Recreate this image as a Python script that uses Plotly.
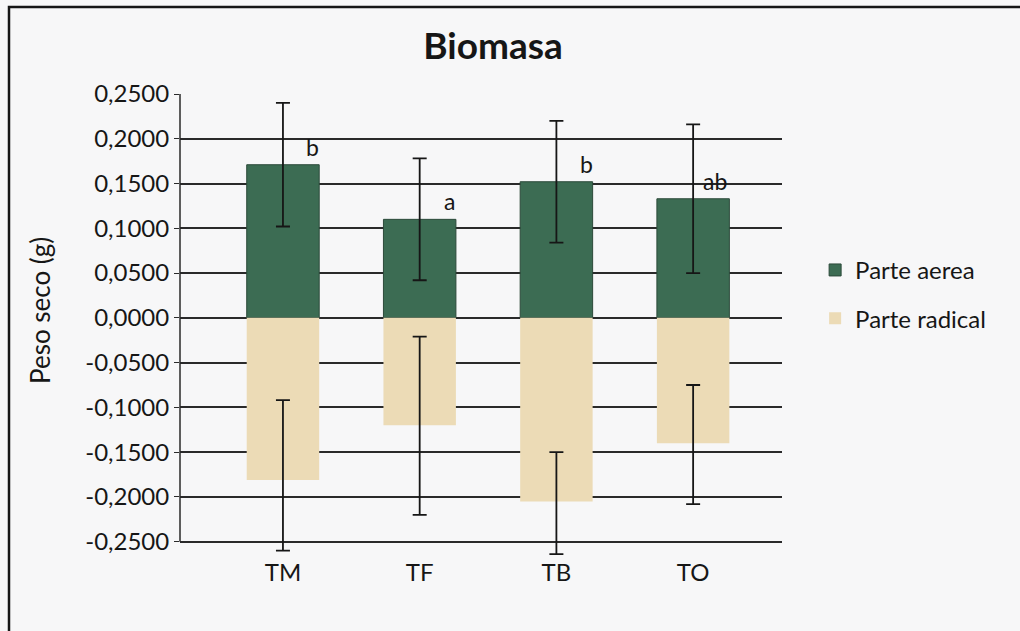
import plotly.graph_objects as go

categories = ["TM", "TF", "TB", "TO"]
aerea = [0.171, 0.110, 0.152, 0.133]
aerea_err = [0.069, 0.068, 0.068, 0.083]
radical = [-0.181, -0.120, -0.205, -0.140]
radical_err_up = [0.089, 0.099, 0.055, 0.065]
radical_err_down = [0.079, 0.100, 0.059, 0.068]
letters = ["b", "a", "b", "ab"]
y_tickvals = [0.25, 0.20, 0.15, 0.10, 0.05, 0.0, -0.05, -0.10, -0.15, -0.20, -0.25]
y_ticktext = ["0,2500", "0,2000", "0,1500", "0,1000", "0,0500", "0,0000",
              "-0,0500", "-0,1000", "-0,1500", "-0,2000", "-0,2500"]

GREEN = "#3c6c53"
TAN = "#ecdbb6"
FONT = "Lato, 'Open Sans', sans-serif"
INK = "#161616"
AX = "#2a2a2a"

fig = go.Figure()
fig.add_trace(go.Bar(
    x=categories, y=aerea, name="Parte aerea", legendgroup="g1",
    marker=dict(color=GREEN, line=dict(color="#2c4a3a", width=1)),
    width=0.53,
    error_y=dict(type="data", array=aerea_err, color=INK, thickness=1.8, width=7),
))
fig.add_trace(go.Bar(
    x=categories, y=radical, name="Parte radical", legendgroup="g2",
    marker=dict(color=TAN, line=dict(width=0)),
    width=0.53,
    error_y=dict(type="data", symmetric=False, array=radical_err_up,
                 arrayminus=radical_err_down, color=INK, thickness=1.8, width=7),
))

for c, v, t in zip(categories, aerea, letters):
    fig.add_annotation(x=c, y=v + 0.02, text=t, showarrow=False,
                       xshift=30 if len(t) == 1 else 22,
                       font=dict(family=FONT, size=23, color=INK))

PLOT_BOTTOM, PLOT_H = 556, 462

# y-axis title
fig.add_annotation(xref="paper", yref="paper", x=(40 - 180) / 602, y=(PLOT_BOTTOM - 311) / PLOT_H,
                   text="Peso seco (g)", textangle=-90, showarrow=False,
                   xanchor="center", yanchor="middle",
                   font=dict(family=FONT, size=26, color=INK))

# vertical axis line spanning the tick range only
fig.add_shape(type="line", xref="paper", yref="y", x0=0, x1=0,
              y0=min(y_tickvals), y1=max(y_tickvals), line=dict(color=AX, width=1.5))

# outer frame of the chart area (scanned border)
fig.add_shape(type="rect", xref="paper", yref="paper",
              x0=(9 - 180) / 602, x1=(1030 - 180) / 602,
              y0=(PLOT_BOTTOM - 650) / PLOT_H, y1=(PLOT_BOTTOM - 7) / PLOT_H,
              line=dict(color=INK, width=2.5), fillcolor="rgba(0,0,0,0)", layer="below")

fig.update_layout(
    width=1020, height=631,
    margin=dict(l=180, r=238, t=94, b=631 - PLOT_BOTTOM),
    paper_bgcolor="#f7f7f8", plot_bgcolor="rgba(0,0,0,0)",
    barmode="relative",
    title=dict(text="<b>Biomasa</b>", x=493 / 1020, xanchor="center", y=1 - 46 / 631,
               yanchor="middle", font=dict(family=FONT, size=37, color=INK)),
    font=dict(family=FONT, size=23, color=INK),
    showlegend=True,
    legend=dict(x=1.055, y=0.667, xanchor="left", yanchor="top",
                font=dict(family=FONT, size=24, color=INK),
                bgcolor="rgba(0,0,0,0)", tracegroupgap=14, itemwidth=30),
    xaxis=dict(range=[-0.753, 3.65], showgrid=False, showline=False,
               ticks="", tickfont=dict(family=FONT, size=24, color=INK)),
    yaxis=dict(range=[-0.266, 0.25], tickmode="array", tickvals=y_tickvals, ticktext=y_ticktext,
               showgrid=True, gridcolor=AX, gridwidth=1.5,
               zeroline=False, showline=False,
               ticks="outside", ticklen=5, tickcolor=AX,
               tickfont=dict(family=FONT, size=24, color=INK)),
)

fig.write_html("out.html", post_script="document.body.style.margin='0';",
               config={"displayModeBar": False})
